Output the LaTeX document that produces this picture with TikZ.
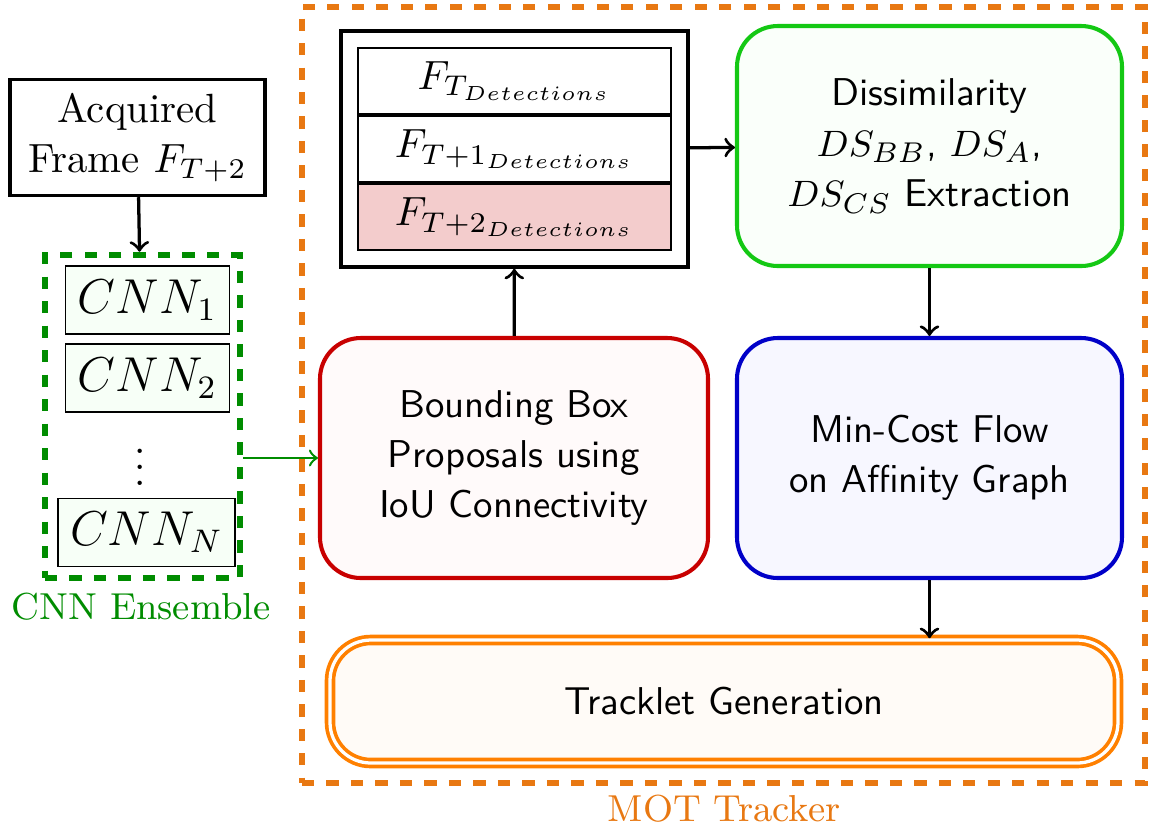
\documentclass[tikz,border=0pt]{standalone}
\usepackage{amsmath,amssymb}
\usetikzlibrary{positioning,fit}
\newlength\px
\setlength\px{0.245pt}
\definecolor{motorange}{RGB}{232,120,18}
\definecolor{trackorange}{RGB}{255,128,0}
\definecolor{ensgreen}{RGB}{0,140,0}
\definecolor{disgreen}{RGB}{20,200,20}
\definecolor{bbpred}{RGB}{200,0,0}
\definecolor{mcfblue}{RGB}{0,0,200}
\definecolor{curpink}{RGB}{243,204,204}

\begin{document}
\begin{tikzpicture}[
  x=0.245pt, y=-0.245pt,
  node distance=0pt,
  every node/.style={font=\fontsize{10}{12.3}\selectfont, align=center},
  stage/.style={draw, rounded corners=10pt, line width=1pt, minimum width=385*\px, minimum height=240*\px,
    font=\sffamily\fontsize{9.5}{12.3}\selectfont},
  cnn/.style={draw, line width=0.4pt, fill=green!3, inner xsep=3pt, minimum height=64*\px, font=\large},
  row/.style={draw, line width=0.5pt, minimum width=313*\px, minimum height=66*\px},
  caption/.style={font=\fontsize{9.2}{11}\selectfont},
  ->, thick
]
\useasboundingbox (0,0) rectangle (1149,830);

% input side
\node[draw, thick, minimum width=255*\px, minimum height=115*\px] (acq) at (137.5,137.5) {Acquired\\Frame $F_{T+2}$};
\node[draw=ensgreen, ultra thick, dashed, minimum width=195*\px, minimum height=323*\px] (ens) at (142.5,416.5) {};
\node[cnn] (cnn1) at (147.5,300) {$CNN_1$};
\node[cnn] (cnn2) at (147.5,378) {$CNN_2$};
\node (dots) at (140,455) {$\vdots$};
\node[cnn] (cnnN) at (146.5,532.5) {$CNN_N$};
\node[caption, text=ensgreen] (enslabel) at (141,607) {CNN Ensemble};

% tracker
\node[draw=motorange, ultra thick, dashed, minimum width=843*\px, minimum height=776*\px] (mot) at (723.5,395) {};
\node[caption, text=motorange] (motlabel) at (724,809) {MOT Tracker};

\node[row] (det0) at (514.5,81) {$F_{T_{Detections}}$};
\node[row, below=of det0] (det1) {$F_{T+1_{Detections}}$};
\node[row, fill=curpink, below=of det1] (det2) {$F_{T+2_{Detections}}$};
\node[draw, thick, fit=(det0)(det2), inner sep=16*\px] (det) {};

\node[stage, draw=disgreen, fill=green!2] (dis) at (929.5,146) {Dissimilarity\\$DS_{BB}$, $DS_A$,\\$DS_{CS}$ Extraction};
\node[stage, draw=mcfblue, fill=blue!3] (mcf) at (929.5,458) {Min-Cost Flow\\on Affinity Graph};
\node[stage, draw=bbpred, fill=red!2, minimum width=388*\px] (bbp) at (514,458) {Bounding Box\\Proposals using\\IoU Connectivity};
\node[stage, draw=trackorange, fill=orange!3, double=white, double distance=0.8pt, line width=0.9pt,
  minimum width=788*\px, minimum height=123*\px] (track) at (724,701.5) {Tracklet Generation};

% connectors
\draw (acq) -- (ens);
\draw[ensgreen, semithick] (bbp.west -| ens.east) -- (bbp.west);
\draw (bbp) -- (det);
\draw (det) -- (dis);
\draw (dis) -- (mcf);
\draw (mcf.south) -- (mcf.south |- track.north);
\end{tikzpicture}
\end{document}
